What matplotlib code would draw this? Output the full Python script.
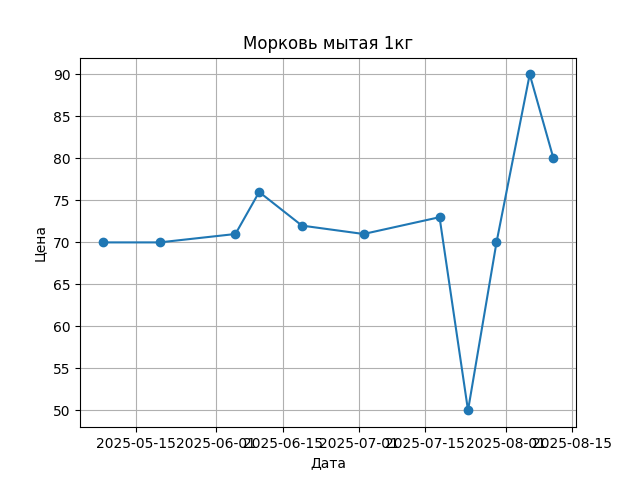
import pandas as pd
import matplotlib
matplotlib.use('Agg')
import matplotlib.pyplot as plt

dates = ['2025-05-08', '2025-05-20', '2025-06-05', '2025-06-10', '2025-06-19',
         '2025-07-02', '2025-07-18', '2025-07-24', '2025-07-30', '2025-08-06',
         '2025-08-11']
prices = [70, 70, 71, 76, 72, 71, 73, 50, 70, 90, 80]

x = pd.to_datetime(dates)

plt.figure(figsize=(6.4, 4.8), dpi=100)
plt.plot(x, prices, marker='o')
plt.title('Морковь мытая 1кг')
plt.xlabel('Дата')
plt.ylabel('Цена')
plt.grid(True)
plt.savefig('out.png')
